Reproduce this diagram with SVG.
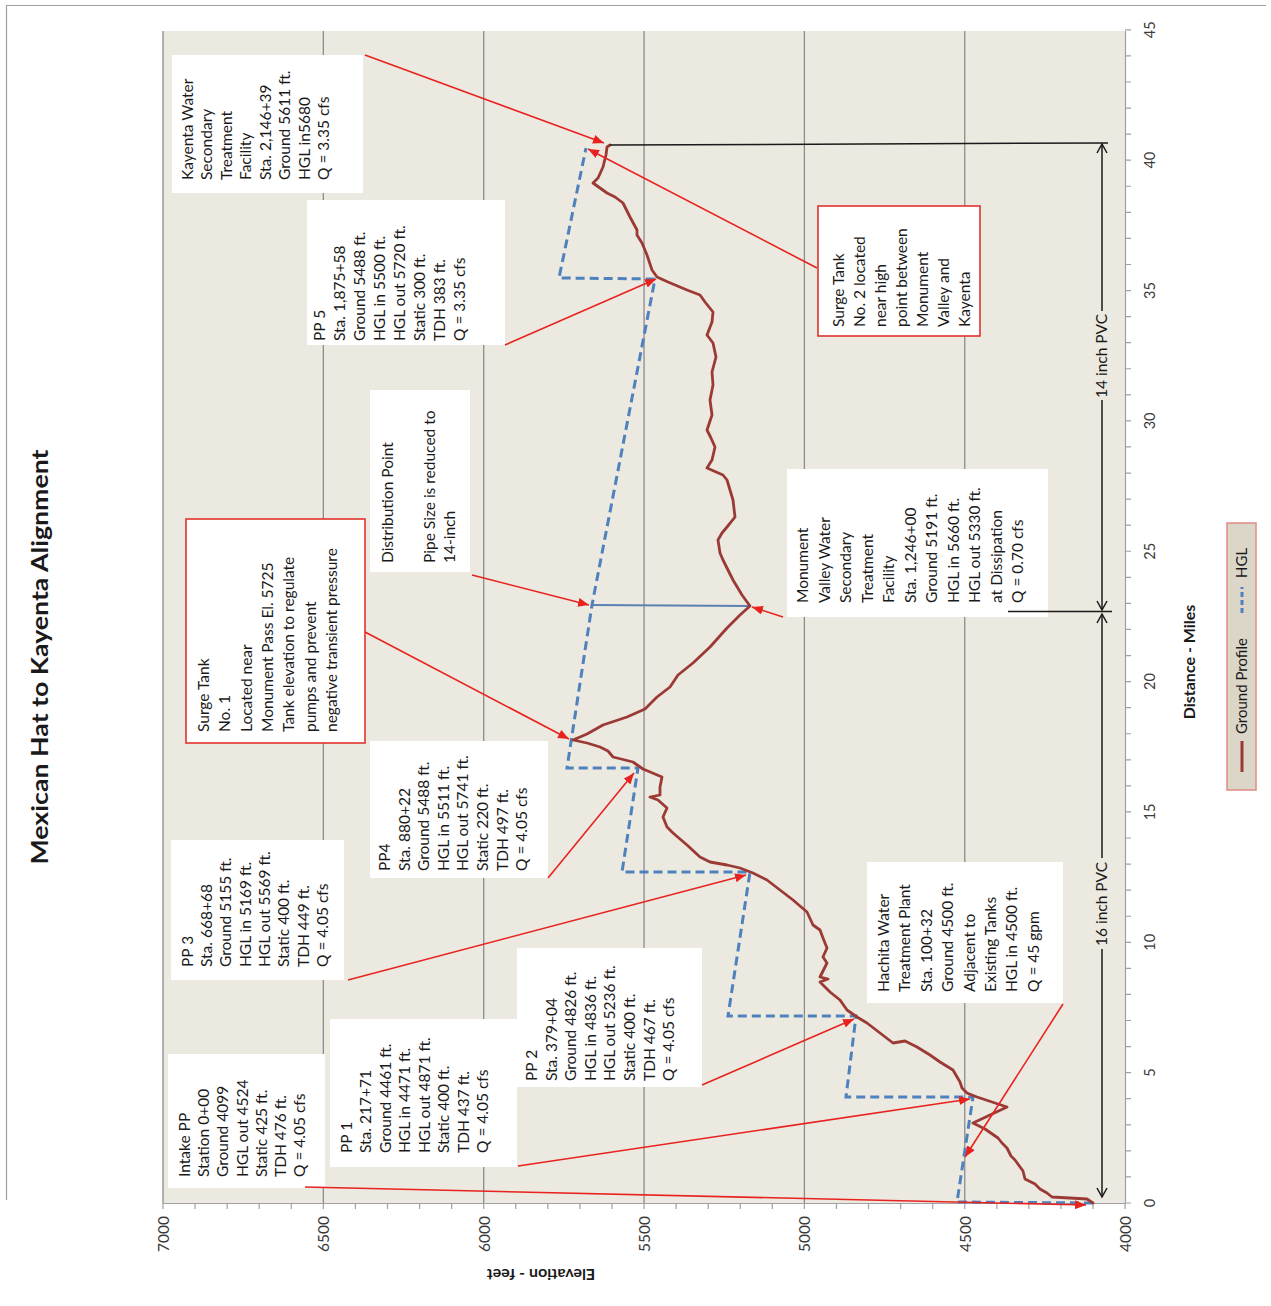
<svg xmlns="http://www.w3.org/2000/svg" width="1271" height="1306" viewBox="0 0 1271 1306">
<style>
.bg{fill:#ece9e0}
.grid{stroke:#8c8c8c;stroke-width:1.3}
.tick{stroke:#a0a0a0;stroke-width:1.2;fill:none}
.box{fill:#ffffff}
.rbox{fill:#ffffff;stroke:#e1332e;stroke-width:1.6}
.t{font-family:Lato,"Liberation Sans",sans-serif;font-size:15.5px;fill:#1a1a1a}
.ax{font-family:Lato,"Liberation Sans",sans-serif;font-size:14.5px;fill:#3a3a3a}
.axt{font-family:Lato,"Liberation Sans",sans-serif;font-size:16px;font-weight:bold;fill:#1a1a1a}
.lead{stroke:#e8231f;stroke-width:1.6;fill:none;marker-end:url(#ah)}
.ground{fill:none;stroke:#9b3a35;stroke-width:2.8;stroke-linejoin:round;stroke-linecap:round}
.hgl{fill:none;stroke:#4f81bd;stroke-width:3;stroke-dasharray:9 5}
.dim{stroke:#1a1a1a;stroke-width:1.5;fill:none}
</style>
<defs>
<marker id="ah" markerUnits="userSpaceOnUse" markerWidth="11" markerHeight="9" refX="11" refY="4.5" orient="auto">
<path d="M0,0 L11,4.5 L0,9 z" fill="#e8231f"/>
</marker>
</defs>

<!-- outer frame -->
<path d="M6.5,1200 V5.5 H1266" fill="none" stroke="#a0a0a0" stroke-width="1.2"/>

<!-- title -->
<text class="axt" style="font-size:22px" text-anchor="middle" transform="translate(48,657) rotate(-90)" textLength="415" lengthAdjust="spacingAndGlyphs">Mexican Hat to Kayenta Alignment</text>

<!-- plot area -->
<g id="plot">
<rect class="bg" x="163" y="31" width="962" height="1172"/>
<g class="grid">
<line x1="163" y1="31" x2="163" y2="1203"/>
<line x1="323.35" y1="31" x2="323.35" y2="1203"/>
<line x1="483.7" y1="31" x2="483.7" y2="1203"/>
<line x1="644.05" y1="31" x2="644.05" y2="1203"/>
<line x1="804.4" y1="31" x2="804.4" y2="1203"/>
<line x1="964.75" y1="31" x2="964.75" y2="1203"/>
</g>
<line x1="1125.5" y1="31" x2="1125.5" y2="1203" stroke="#a0a0a0" stroke-width="1.2"/>
<line x1="163" y1="1203.5" x2="1125.5" y2="1203.5" stroke="#a0a0a0" stroke-width="1.2"/>
<path class="tick" d="M163,1203v6M195.07,1203v6M227.14,1203v6M259.21,1203v6M291.28,1203v6M323.35,1203v6M355.42,1203v6M387.49,1203v6M419.56,1203v6M451.63,1203v6M483.7,1203v6M515.77,1203v6M547.84,1203v6M579.91,1203v6M611.98,1203v6M644.05,1203v6M676.12,1203v6M708.19,1203v6M740.26,1203v6M772.33,1203v6M804.4,1203v6M836.47,1203v6M868.54,1203v6M900.61,1203v6M932.68,1203v6M964.75,1203v6M996.82,1203v6M1028.89,1203v6M1060.96,1203v6M1093.03,1203v6M1125.1,1203v6"/>
<path class="tick" d="M1125,1203h6M1125,1176.93h6M1125,1150.86h6M1125,1124.79h6M1125,1098.72h6M1125,1072.65h6M1125,1046.58h6M1125,1020.51h6M1125,994.44h6M1125,968.37h6M1125,942.3h6M1125,916.23h6M1125,890.16h6M1125,864.09h6M1125,838.02h6M1125,811.95h6M1125,785.88h6M1125,759.81h6M1125,733.74h6M1125,707.67h6M1125,681.6h6M1125,655.53h6M1125,629.46h6M1125,603.39h6M1125,577.32h6M1125,551.25h6M1125,525.18h6M1125,499.11h6M1125,473.04h6M1125,446.97h6M1125,420.9h6M1125,394.83h6M1125,368.76h6M1125,342.69h6M1125,316.62h6M1125,290.55h6M1125,264.48h6M1125,238.41h6M1125,212.34h6M1125,186.27h6M1125,160.2h6M1125,134.13h6M1125,108.06h6M1125,81.99h6M1125,55.92h6M1125,29.85h6"/>
</g>

<!-- axis labels -->
<g id="elev-labels" class="ax" style="font-size:15.5px" text-anchor="end">
<text transform="translate(169,1216) rotate(-90)">7000</text>
<text transform="translate(329,1216) rotate(-90)">6500</text>
<text transform="translate(490,1216) rotate(-90)">6000</text>
<text transform="translate(650,1216) rotate(-90)">5500</text>
<text transform="translate(810,1216) rotate(-90)">5000</text>
<text transform="translate(971,1216) rotate(-90)">4500</text>
<text transform="translate(1131,1216) rotate(-90)">4000</text>
</g>
<g id="dist-labels" class="ax" text-anchor="middle">
<text transform="translate(1155,1203) rotate(-90)">0</text>
<text transform="translate(1155,1072.65) rotate(-90)">5</text>
<text transform="translate(1155,942.3) rotate(-90)">10</text>
<text transform="translate(1155,811.95) rotate(-90)">15</text>
<text transform="translate(1155,681.6) rotate(-90)">20</text>
<text transform="translate(1155,551.25) rotate(-90)">25</text>
<text transform="translate(1155,420.9) rotate(-90)">30</text>
<text transform="translate(1155,290.55) rotate(-90)">35</text>
<text transform="translate(1155,160.2) rotate(-90)">40</text>
<text transform="translate(1155,29.85) rotate(-90)">45</text>
</g>
<text class="axt" text-anchor="middle" transform="translate(541,1269) rotate(180)">Elevation - feet</text>
<text class="axt" text-anchor="middle" transform="translate(1195,662) rotate(-90)">Distance - Miles</text>

<!-- data series -->
<g id="series">
<polyline class="hgl" points="1093,1203 957,1202 973,1097 846,1097 856,1016 728,1016 750,872 622,872 638,768 567,768 592,605 655,279 559,278 586,148"/>
<line x1="592" y1="605" x2="749" y2="606" stroke="#5b80b2" stroke-width="1.8"/>
<polyline class="ground" points="1093,1203 1087,1199 1052,1197 1047,1193 1040,1189 1035,1184 1025,1179 1023,1171 1015,1160 1011,1156 1007,1148 1002,1143 998,1138 985,1129 973,1123 1007,1107 977,1097 967,1093 962,1088 960,1082 953,1070 940,1062 930,1055 917,1047 905,1041 893,1043 880,1033 867,1023 857,1017 847,1010 840,1000 830,992 820,982 828,979 820,977 827,963 823,957 827,948 823,938 820,930 813,925 807,912 793,900 780,890 767,880 753,873 740,868 727,865 710,862 700,857 687,845 673,833 667,827 663,817 667,808 658,800 650,797 660,795 660,787 662,777 643,769 633,762 613,757 608,751 600,747 587,743 573,740 587,734 603,725 627,717 645,709 657,697 670,687 678,675 693,663 710,647 727,628 740,615 750,606 742,595 733,580 723,560 720,553 718,540 722,533 727,527 735,517 733,500 730,490 727,480 723,475 707,468 712,460 715,447 711,438 707,430 712,415 710,400 713,385 712,372 716,357 713,343 707,335 712,322 713,312 705,302 700,295 687,290 668,282 657,277 652,270 647,255 642,243 637,235 637,230 630,217 623,203 615,197 607,193 600,188 593,183 598,178 603,167 606,155 607,147 610,145"/>
</g>

<!-- dimension / reference lines -->
<g id="connectors-dim" class="dim">
<line x1="610" y1="145" x2="1108" y2="143"/>
<line x1="1008" y1="611.5" x2="1112" y2="611.5"/>
<line x1="1102" y1="144" x2="1102" y2="311"/>
<line x1="1102" y1="400" x2="1102" y2="610"/>
<line x1="1102" y1="614" x2="1102" y2="858"/>
<line x1="1102" y1="949" x2="1102" y2="1197"/>
<polyline points="1097,153 1102,144 1107,153"/>
<polyline points="1097,601 1102,610 1107,601"/>
<polyline points="1097,623 1102,614 1107,623"/>
<polyline points="1097,1188 1102,1197 1107,1188"/>
</g>
<text class="t" text-anchor="middle" transform="translate(1107,356) rotate(-90)">14 inch PVC</text>
<text class="t" text-anchor="middle" transform="translate(1107,904) rotate(-90)">16 inch PVC</text>

<!-- legend -->
<g id="legend">
<rect x="1227" y="523" width="29" height="267" fill="#dcd6c8" stroke="#e08b86" stroke-width="1.5"/>
<line x1="1242" y1="772" x2="1242" y2="741" stroke="#9b3a35" stroke-width="3"/>
<text class="t" style="font-size:15px" transform="translate(1247,734) rotate(-90)">Ground Profile</text>
<line x1="1242" y1="613" x2="1242" y2="587" stroke="#4f81bd" stroke-width="3" stroke-dasharray="5 3"/>
<text class="t" style="font-size:15px" transform="translate(1247,578) rotate(-90)">HGL</text>
</g>

<!-- nodes (callout boxes) -->
<g id="kayenta" transform="translate(172,193) rotate(-90)">
<rect class="box" width="138" height="191"/>
<text class="t"><tspan x="13" y="20.7">Kayenta Water</tspan><tspan x="13" y="40.2">Secondary</tspan><tspan x="13" y="59.7">Treatment</tspan><tspan x="13" y="79.2">Facility</tspan><tspan x="13" y="98.7">Sta. 2,146+39</tspan><tspan x="13" y="118.2">Ground 5611 ft.</tspan><tspan x="13" y="137.7">HGL in5680</tspan><tspan x="13" y="157.2">Q = 3.35 cfs</tspan></text>
</g>

<g id="pp5" transform="translate(307,345) rotate(-90)">
<rect class="box" width="145" height="198"/>
<text class="t"><tspan x="4" y="18">PP 5</tspan><tspan x="4" y="38">Sta.  1,875+58</tspan><tspan x="4" y="58">Ground 5488 ft.</tspan><tspan x="4" y="78">HGL in 5500 ft.</tspan><tspan x="4" y="98">HGL out 5720 ft.</tspan><tspan x="4" y="118">Static 300 ft.</tspan><tspan x="4" y="138">TDH 383 ft.</tspan><tspan x="4" y="158">Q = 3.35 cfs</tspan></text>
</g>

<g id="surge-tank-2" transform="translate(818,336) rotate(-90)">
<rect class="rbox" width="130" height="162"/>
<text class="t"><tspan x="9" y="26">Surge Tank</tspan><tspan x="9" y="47">No. 2 located</tspan><tspan x="9" y="68">near high</tspan><tspan x="9" y="89">point between</tspan><tspan x="9" y="110">Monument</tspan><tspan x="9" y="131">Valley and</tspan><tspan x="9" y="152">Kayenta</tspan></text>
</g>

<g id="distribution-point" transform="translate(370,572) rotate(-90)">
<rect class="box" width="182" height="100"/>
<text class="t"><tspan x="9" y="23">Distribution Point</tspan><tspan x="9" y="65">Pipe Size is reduced to</tspan><tspan x="9" y="85">14-inch</tspan></text>
</g>

<g id="surge-tank-1" transform="translate(186,743) rotate(-90)">
<rect class="rbox" width="224" height="179"/>
<text class="t"><tspan x="11" y="23">Surge Tank</tspan><tspan x="11" y="44.3">No. 1</tspan><tspan x="11" y="65.6">Located near</tspan><tspan x="11" y="86.9">Monument Pass El. 5725</tspan><tspan x="11" y="108.2">Tank elevation to regulate</tspan><tspan x="11" y="129.5">pumps and prevent</tspan><tspan x="11" y="150.8">negative transient pressure</tspan></text>
</g>

<g id="pp4" transform="translate(370,878) rotate(-90)">
<rect class="box" width="137" height="178"/>
<text class="t"><tspan x="7" y="20">PP4</tspan><tspan x="7" y="39.6">Sta.  880+22</tspan><tspan x="7" y="59.2">Ground 5488 ft.</tspan><tspan x="7" y="78.8">HGL in 5511 ft.</tspan><tspan x="7" y="98.4">HGL out 5741 ft.</tspan><tspan x="7" y="118">Static 220 ft.</tspan><tspan x="7" y="137.6">TDH 497 ft.</tspan><tspan x="7" y="157.2">Q = 4.05 cfs</tspan></text>
</g>

<g id="pp3" transform="translate(171,980) rotate(-90)">
<rect class="box" width="140" height="173"/>
<text class="t"><tspan x="13" y="21.7">PP 3</tspan><tspan x="13" y="41">Sta.  668+68</tspan><tspan x="13" y="60.3">Ground 5155 ft.</tspan><tspan x="13" y="79.6">HGL in 5169 ft.</tspan><tspan x="13" y="98.9">HGL out 5569 ft.</tspan><tspan x="13" y="118.2">Static 400 ft.</tspan><tspan x="13" y="137.5">TDH 449 ft.</tspan><tspan x="13" y="156.8">Q = 4.05 cfs</tspan></text>
</g>

<g id="intake-pp" transform="translate(168,1188) rotate(-90)">
<rect class="box" width="134" height="157"/>
<text class="t"><tspan x="11" y="22">Intake PP</tspan><tspan x="11" y="41.2">Station 0+00</tspan><tspan x="11" y="60.4">Ground 4099</tspan><tspan x="11" y="79.6">HGL out  4524</tspan><tspan x="11" y="98.8">Static  425 ft.</tspan><tspan x="11" y="118">TDH  476 ft.</tspan><tspan x="11" y="137.2">Q =  4.05 cfs</tspan></text>
</g>

<g id="pp1" transform="translate(330,1167) rotate(-90)">
<rect class="box" width="148" height="187"/>
<text class="t"><tspan x="14" y="21.7">PP 1</tspan><tspan x="14" y="41.2">Sta.  217+71</tspan><tspan x="14" y="60.7">Ground 4461 ft.</tspan><tspan x="14" y="80.2">HGL in 4471 ft.</tspan><tspan x="14" y="99.7">HGL out 4871 ft.</tspan><tspan x="14" y="119.2">Static 400 ft.</tspan><tspan x="14" y="138.7">TDH 437 ft.</tspan><tspan x="14" y="158.2">Q = 4.05 cfs</tspan></text>
</g>

<g id="pp2" transform="translate(517,1087) rotate(-90)">
<rect class="box" width="139" height="185"/>
<text class="t"><tspan x="6" y="20">PP 2</tspan><tspan x="6" y="39.6">Sta.  379+04</tspan><tspan x="6" y="59.2">Ground 4826 ft.</tspan><tspan x="6" y="78.8">HGL in 4836 ft.</tspan><tspan x="6" y="98.4">HGL out 5236 ft.</tspan><tspan x="6" y="118">Static 400 ft.</tspan><tspan x="6" y="137.6">TDH 467 ft.</tspan><tspan x="6" y="157.2">Q = 4.05 cfs</tspan></text>
</g>

<g id="hachita" transform="translate(867,1003) rotate(-90)">
<rect class="box" width="141" height="196"/>
<text class="t"><tspan x="11" y="22">Hachita Water</tspan><tspan x="11" y="43.4">Treatment Plant</tspan><tspan x="11" y="64.8">Sta. 100+32</tspan><tspan x="11" y="86.2">Ground 4500 ft.</tspan><tspan x="11" y="107.6">Adjacent to</tspan><tspan x="11" y="129">Existing Tanks</tspan><tspan x="11" y="150.4">HGL in 4500 ft.</tspan><tspan x="11" y="171.8">Q = 45 gpm</tspan></text>
</g>

<g id="monument-valley" transform="translate(787,617) rotate(-90)">
<rect class="box" width="148" height="261"/>
<text class="t"><tspan x="14" y="21">Monument</tspan><tspan x="14" y="42.5">Valley Water</tspan><tspan x="14" y="64">Secondary</tspan><tspan x="14" y="85.5">Treatment</tspan><tspan x="14" y="107">Facility</tspan><tspan x="14" y="128.5">Sta. 1,246+00</tspan><tspan x="14" y="150">Ground 5191 ft.</tspan><tspan x="14" y="171.5">HGL in 5660 ft.</tspan><tspan x="14" y="193">HGL out 5330 ft.</tspan><tspan x="14" y="214.5">at Dissipation</tspan><tspan x="14" y="236">Q = 0.70 cfs</tspan></text>
</g>
<line x1="1008" y1="611.5" x2="1048" y2="611.5" class="dim"/>

<!-- connectors (callout leaders) -->
<g id="connectors">
<line class="lead" x1="365" y1="55" x2="604" y2="143"/>
<line class="lead" x1="817" y1="268" x2="588" y2="149"/>
<line class="lead" x1="505" y1="345" x2="656" y2="279"/>
<line class="lead" x1="472" y1="575" x2="589" y2="605"/>
<line class="lead" x1="783" y1="617" x2="752" y2="607"/>
<line class="lead" x1="365" y1="632" x2="569" y2="739"/>
<line class="lead" x1="548" y1="878" x2="634" y2="773"/>
<line class="lead" x1="348" y1="980" x2="746" y2="875"/>
<line class="lead" x1="702" y1="1085" x2="854" y2="1019"/>
<line class="lead" x1="518" y1="1166" x2="970" y2="1099"/>
<line class="lead" x1="305" y1="1187" x2="1086" y2="1205"/>
<line class="lead" x1="1063" y1="1004" x2="965" y2="1157"/>
</g>
</svg>
